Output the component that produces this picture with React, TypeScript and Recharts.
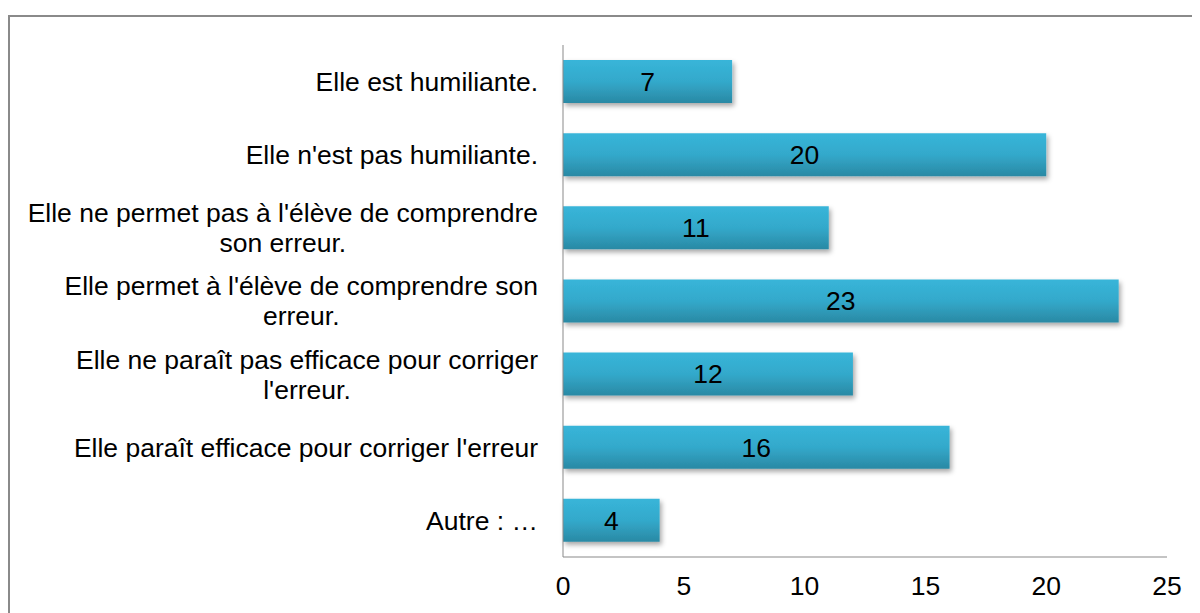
import React from "react";
import { Bar, BarChart, LabelList, XAxis, YAxis } from "recharts";

const categories = [
  "Elle est humiliante.",
  "Elle n'est pas humiliante.",
  "Elle ne permet pas à l'élève de comprendre\nson erreur.",
  "Elle permet à l'élève de comprendre son\nerreur.",
  "Elle ne paraît pas efficace pour corriger\nl'erreur.",
  "Elle paraît efficace pour corriger l'erreur",
  "Autre : …",
];
const counts = [7, 20, 11, 23, 12, 16, 4];
const xTicks = [0, 5, 10, 15, 20, 25];

const data = categories.map((label, i) => ({ label, value: counts[i] }));

const FONT = "'Liberation Sans', Arial, sans-serif";
const FONT_SIZE = 26.5;

let ctx: CanvasRenderingContext2D | null = null;
function textWidth(s: string) {
  if (!ctx) ctx = document.createElement("canvas").getContext("2d");
  if (!ctx) return s.length * FONT_SIZE * 0.5;
  ctx.font = `${FONT_SIZE}px 'Liberation Sans', Arial, sans-serif`;
  return ctx.measureText(s).width;
}

function CategoryTick(props: any) {
  const { x, y, payload } = props;
  const lines: string[] = String(payload.value).split("\n");
  const lineH = 30;
  if (lines.length === 1) {
    return (
      <text x={x} y={y} dy="0.355em" textAnchor="end" fontSize={FONT_SIZE} fontFamily={FONT} fill="#000">
        {lines[0]}
      </text>
    );
  }
  const maxW = Math.max(...lines.map(textWidth));
  const cx = x - maxW / 2;
  return (
    <text x={cx} y={y} textAnchor="middle" fontSize={FONT_SIZE} fontFamily={FONT} fill="#000">
      {lines.map((l, i) => (
        <tspan key={i} x={cx} y={y + (i - (lines.length - 1) / 2) * lineH} dy="0.355em">
          {l}
        </tspan>
      ))}
    </text>
  );
}

export default function App() {
  return (
    <div
      style={{
        marginTop: 7,
        width: 1190,
        height: 596,
        borderTop: "2px solid #8a8a8a",
        borderLeft: "2px solid #8a8a8a",
        fontFamily: FONT,
      }}
    >
      <BarChart
        width={1190}
        height={596}
        data={data}
        layout="vertical"
        margin={{ top: 28, right: 33, left: 0, bottom: 0 }}
        barSize={43}
      >
        <defs>
          <linearGradient id="barFill" x1="0" y1="0" x2="0" y2="1">
            <stop offset="0%" stopColor="#38b5d9" />
            <stop offset="50%" stopColor="#33a9cb" />
            <stop offset="100%" stopColor="#2a89a4" />
          </linearGradient>
          <filter id="barShadow" x="-10%" y="-20%" width="130%" height="160%">
            <feDropShadow dx="2" dy="3" stdDeviation="2.5" floodColor="#000" floodOpacity="0.35" />
          </filter>
        </defs>
        <XAxis
          type="number"
          domain={[0, 25]}
          ticks={xTicks}
          height={56}
          tickLine={false}
          tickSize={0}
          tickMargin={19}
          axisLine={{ stroke: "#898989", strokeWidth: 1 }}
          tick={{ fontSize: FONT_SIZE, fontFamily: FONT, fill: "#000" }}
        />
        <YAxis
          type="category"
          dataKey="label"
          width={553}
          tickLine={false}
          tickSize={0}
          tickMargin={25}
          interval={0}
          axisLine={{ stroke: "#898989", strokeWidth: 1 }}
          tick={<CategoryTick />}
        />
        <Bar dataKey="value" fill="url(#barFill)" filter="url(#barShadow)" isAnimationActive={false}>
          <LabelList
            dataKey="value"
            position="center"
            fill="#000"
            fontSize={FONT_SIZE}
            fontFamily={FONT}
          />
        </Bar>
      </BarChart>
    </div>
  );
}
